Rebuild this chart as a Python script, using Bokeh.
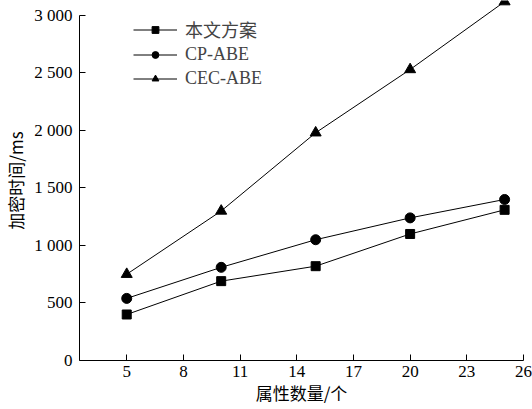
from bokeh.plotting import figure
from bokeh.models import Legend, LegendItem, FixedTicker, Range1d
from bokeh.embed import file_html
from bokeh.resources import INLINE

attrs = [5, 10, 15, 20, 25]
ours = [400, 690, 820, 1100, 1310]
cp_abe = [540, 810, 1050, 1240, 1400]
cec_abe = [750, 1300, 1980, 2530, 3120]
series_names = ["本文方案", "CP-ABE", "CEC-ABE"]
x_ticks = [5, 8, 11, 14, 17, 20, 23, 26]
y_ticks = [0, 500, 1000, 1500, 2000, 2500, 3000]
y_tick_labels = ["0", "500", "1 000", "1 500", "2 000", "2 500", "3 000"]

W, H = 532, 409
p = figure(width=W, height=H, output_backend="svg", toolbar_location=None,
           x_range=Range1d(2.5, 26), y_range=Range1d(0, 3130),
           min_border_left=79, min_border_right=9, min_border_top=0, min_border_bottom=49)
p.outline_line_color = None
p.xgrid.visible = False
p.ygrid.visible = False
p.background_fill_color = "white"

serif = "'Liberation Serif', 'Noto Sans CJK SC'"
for ax in (p.xaxis[0], p.yaxis[0]):
    ax.axis_line_color = "black"
    ax.axis_line_width = 1
    ax.major_tick_in = 6
    ax.major_tick_out = 0
    ax.minor_tick_line_color = None
    ax.major_tick_line_color = "black"
    ax.major_label_text_font = "Liberation Serif"
    ax.major_label_text_font_size = "17px"
    ax.major_label_text_color = "black"
    ax.axis_label_text_font = "Noto Sans CJK SC"
    ax.axis_label_text_font_size = "17px"
    ax.axis_label_text_font_style = "normal"
    ax.axis_label_text_color = "black"

p.xaxis.ticker = FixedTicker(ticks=x_ticks)
p.yaxis.ticker = FixedTicker(ticks=y_ticks)
p.yaxis.major_label_overrides = {t: l for t, l in zip(y_ticks, y_tick_labels)}
p.xaxis.bounds = (2.5, 26)
p.yaxis.bounds = (0, 3000)
p.xaxis.axis_label = "属性数量/个"
p.yaxis.axis_label = "加密时间/ms"
p.xaxis.major_label_standoff = 5
p.yaxis.major_label_standoff = 7
p.xaxis.axis_label_standoff = 0
p.yaxis.axis_label_standoff = 3

items = []
for vals, name, marker, size in [(ours, series_names[0], "square", 9),
                                 (cp_abe, series_names[1], "circle", 10),
                                 (cec_abe, series_names[2], "triangle", 11)]:
    l = p.line(attrs, vals, line_color="black", line_width=1)
    s = p.scatter(attrs, vals, marker=marker, size=size, fill_color="black", line_color="black")
    items.append(LegendItem(label=name, renderers=[l, s]))

legend = Legend(items=items, location=(54, 270), border_line_color=None,
                background_fill_alpha=0, padding=0, spacing=0,
                glyph_width=44, glyph_height=17, label_standoff=8,
                label_text_font=serif, label_text_font_size="18px", label_height=24,
                margin=0)
p.add_layout(legend, "center")

open("out.html", "w").write(file_html(p, INLINE))
